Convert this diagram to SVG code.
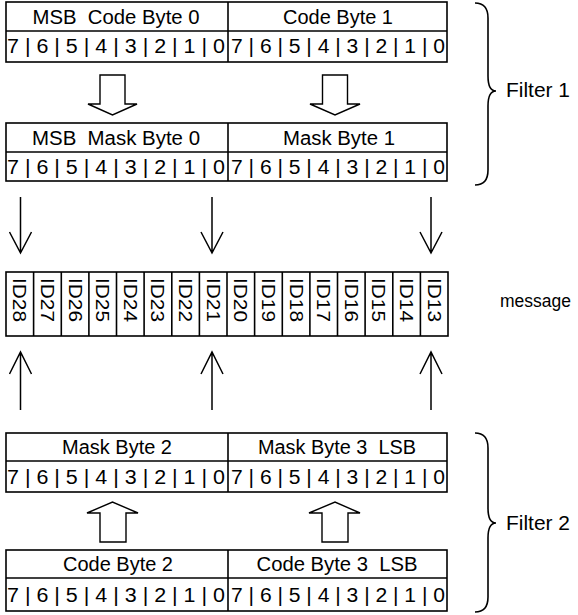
<svg xmlns="http://www.w3.org/2000/svg" width="578" height="615" viewBox="0 0 578 615">
<style>
.box{fill:#fff;stroke:#000;stroke-width:1.6}
.ln{fill:none;stroke:#000;stroke-width:1.6}
.hol{fill:#fff;stroke:#000;stroke-width:1.4;stroke-linejoin:miter}
.con{fill:none;stroke:#000;stroke-width:1.5}
text{font-family:"Liberation Sans",Arial,sans-serif;font-size:19.5px;fill:#000;white-space:pre}
.c{text-anchor:middle}
.id{font-size:18.5px}
.msg{font-size:17.5px}
</style>
<rect width="578" height="615" fill="#fff"/>

<g id="filter1-code">
<rect class="box" x="6" y="2" width="441" height="60"/>
<line class="ln" x1="6" y1="31" x2="447" y2="31"/>
<line class="ln" x1="228" y1="2" x2="228" y2="62"/>
<text class="c" x="116" y="24" xml:space="preserve" textLength="167" lengthAdjust="spacingAndGlyphs">MSB  Code Byte 0</text>
<text class="c" x="338" y="24" textLength="110" lengthAdjust="spacingAndGlyphs">Code Byte 1</text>
<text x="7" y="53" textLength="218" lengthAdjust="spacingAndGlyphs">7 | 6 | 5 | 4 | 3 | 2 | 1 | 0</text>
<text x="231" y="53" textLength="214" lengthAdjust="spacingAndGlyphs">7 | 6 | 5 | 4 | 3 | 2 | 1 | 0</text>
</g>

<g id="filter1-mask">
<rect class="box" x="6" y="123" width="441" height="58"/>
<line class="ln" x1="6" y1="152" x2="447" y2="152"/>
<line class="ln" x1="228" y1="123" x2="228" y2="181"/>
<text class="c" x="116" y="145" xml:space="preserve" textLength="168" lengthAdjust="spacingAndGlyphs">MSB  Mask Byte 0</text>
<text class="c" x="339" y="145" textLength="112" lengthAdjust="spacingAndGlyphs">Mask Byte 1</text>
<text x="7" y="174" textLength="218" lengthAdjust="spacingAndGlyphs">7 | 6 | 5 | 4 | 3 | 2 | 1 | 0</text>
<text x="231" y="174" textLength="214" lengthAdjust="spacingAndGlyphs">7 | 6 | 5 | 4 | 3 | 2 | 1 | 0</text>
</g>

<g id="message">
<rect class="box" x="6" y="272" width="442" height="64"/>
<g class="ln">
<line x1="33.6" y1="272" x2="33.6" y2="336"/><line x1="61.3" y1="272" x2="61.3" y2="336"/>
<line x1="88.9" y1="272" x2="88.9" y2="336"/><line x1="116.5" y1="272" x2="116.5" y2="336"/>
<line x1="144.1" y1="272" x2="144.1" y2="336"/><line x1="171.8" y1="272" x2="171.8" y2="336"/>
<line x1="199.4" y1="272" x2="199.4" y2="336"/><line x1="227" y1="272" x2="227" y2="336"/>
<line x1="254.6" y1="272" x2="254.6" y2="336"/><line x1="282.3" y1="272" x2="282.3" y2="336"/>
<line x1="309.9" y1="272" x2="309.9" y2="336"/><line x1="337.5" y1="272" x2="337.5" y2="336"/>
<line x1="365.1" y1="272" x2="365.1" y2="336"/><line x1="392.8" y1="272" x2="392.8" y2="336"/>
<line x1="420.4" y1="272" x2="420.4" y2="336"/>
</g>
<text class="id" transform="translate(19.8,278) rotate(90)" y="6.5" textLength="44" lengthAdjust="spacingAndGlyphs">ID28</text>
<text class="id" transform="translate(47.4,278) rotate(90)" y="6.5" textLength="44" lengthAdjust="spacingAndGlyphs">ID27</text>
<text class="id" transform="translate(75.1,278) rotate(90)" y="6.5" textLength="44" lengthAdjust="spacingAndGlyphs">ID26</text>
<text class="id" transform="translate(102.7,278) rotate(90)" y="6.5" textLength="44" lengthAdjust="spacingAndGlyphs">ID25</text>
<text class="id" transform="translate(130.3,278) rotate(90)" y="6.5" textLength="44" lengthAdjust="spacingAndGlyphs">ID24</text>
<text class="id" transform="translate(157.9,278) rotate(90)" y="6.5" textLength="44" lengthAdjust="spacingAndGlyphs">ID23</text>
<text class="id" transform="translate(185.6,278) rotate(90)" y="6.5" textLength="44" lengthAdjust="spacingAndGlyphs">ID22</text>
<text class="id" transform="translate(213.2,278) rotate(90)" y="6.5" textLength="44" lengthAdjust="spacingAndGlyphs">ID21</text>
<text class="id" transform="translate(240.8,278) rotate(90)" y="6.5" textLength="44" lengthAdjust="spacingAndGlyphs">ID20</text>
<text class="id" transform="translate(268.4,278) rotate(90)" y="6.5" textLength="44" lengthAdjust="spacingAndGlyphs">ID19</text>
<text class="id" transform="translate(296.1,278) rotate(90)" y="6.5" textLength="44" lengthAdjust="spacingAndGlyphs">ID18</text>
<text class="id" transform="translate(323.7,278) rotate(90)" y="6.5" textLength="44" lengthAdjust="spacingAndGlyphs">ID17</text>
<text class="id" transform="translate(351.3,278) rotate(90)" y="6.5" textLength="44" lengthAdjust="spacingAndGlyphs">ID16</text>
<text class="id" transform="translate(378.9,278) rotate(90)" y="6.5" textLength="44" lengthAdjust="spacingAndGlyphs">ID15</text>
<text class="id" transform="translate(406.6,278) rotate(90)" y="6.5" textLength="44" lengthAdjust="spacingAndGlyphs">ID14</text>
<text class="id" transform="translate(434.2,278) rotate(90)" y="6.5" textLength="44" lengthAdjust="spacingAndGlyphs">ID13</text>
</g>
<text class="msg" x="500" y="307">message</text>

<g id="filter2-mask">
<rect class="box" x="6" y="433" width="441" height="59"/>
<line class="ln" x1="6" y1="461" x2="447" y2="461"/>
<line class="ln" x1="228" y1="433" x2="228" y2="492"/>
<text class="c" x="117" y="454" textLength="110" lengthAdjust="spacingAndGlyphs">Mask Byte 2</text>
<text class="c" x="337" y="454" xml:space="preserve" textLength="158" lengthAdjust="spacingAndGlyphs">Mask Byte 3  LSB</text>
<text x="7" y="484" textLength="218" lengthAdjust="spacingAndGlyphs">7 | 6 | 5 | 4 | 3 | 2 | 1 | 0</text>
<text x="231" y="484" textLength="214" lengthAdjust="spacingAndGlyphs">7 | 6 | 5 | 4 | 3 | 2 | 1 | 0</text>
</g>

<g id="filter2-code">
<rect class="box" x="6" y="550" width="441" height="61"/>
<line class="ln" x1="6" y1="578" x2="447" y2="578"/>
<line class="ln" x1="228" y1="550" x2="228" y2="611"/>
<text class="c" x="118" y="571" textLength="110" lengthAdjust="spacingAndGlyphs">Code Byte 2</text>
<text class="c" x="337" y="571" xml:space="preserve" textLength="161" lengthAdjust="spacingAndGlyphs">Code Byte 3  LSB</text>
<text x="7" y="602" textLength="218" lengthAdjust="spacingAndGlyphs">7 | 6 | 5 | 4 | 3 | 2 | 1 | 0</text>
<text x="231" y="602" textLength="214" lengthAdjust="spacingAndGlyphs">7 | 6 | 5 | 4 | 3 | 2 | 1 | 0</text>
</g>

<g id="brace1">
<path class="ln" d="M475,3 Q488,3 488,18 V76 Q488,91 496,91 Q488,91 488,106 V170 Q488,185 475,185"/>
<text x="506" y="97" textLength="64" lengthAdjust="spacingAndGlyphs">Filter 1</text>
</g>
<g id="brace2">
<path class="ln" d="M475,433 Q488,433 488,448 V508 Q488,523 496,523 Q488,523 488,538 V597 Q488,612 475,612"/>
<text x="506" y="530" textLength="64" lengthAdjust="spacingAndGlyphs">Filter 2</text>
</g>

<g id="connectors">
<path class="hol" d="M100,75 H125 V104 H137 L112.5,115 L88,104 H100 Z"/>
<path class="hol" d="M322.5,75 H347.5 V104 H360 L335,115 L310,104 H322.5 Z"/>
<path class="hol" d="M100,542 V513 H87 L112.5,502 L138,513 H126 V542 Z"/>
<path class="hol" d="M322,542 V513 H309 L335,502 L360,513 H348 V542 Z"/>
<g class="con">
<path d="M20.5,197 V253 M9.5,232 L20.5,253 L31.5,232"/>
<path d="M212,197 V253 M201,232 L212,253 L223,232"/>
<path d="M431,197 V253 M420,232 L431,253 L442,232"/>
<path d="M20.5,410 V352 M9.5,374 L20.5,352 L31.5,374"/>
<path d="M212,410 V352 M201,374 L212,352 L223,374"/>
<path d="M431,410 V352 M420,374 L431,352 L442,374"/>
</g>
</g>
</svg>
